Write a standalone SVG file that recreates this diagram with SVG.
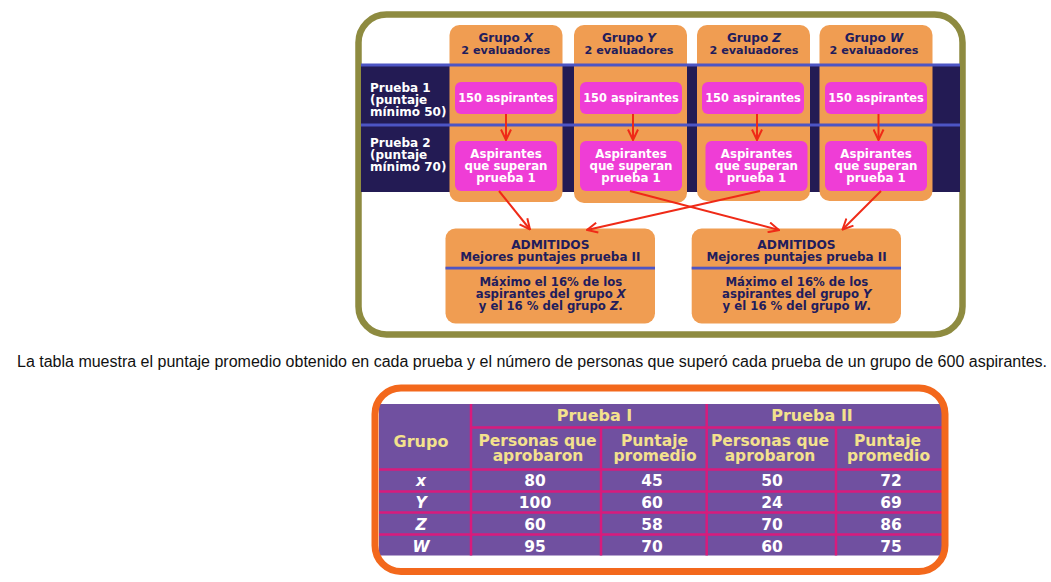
<svg xmlns="http://www.w3.org/2000/svg" width="1051" height="582" viewBox="0 0 1051 582">
<defs>
<style>
.b{font-family:"DejaVu Sans",sans-serif;font-weight:bold}
.nv{fill:#221c5c}
.wh{fill:#ffffff}
.ye{fill:#f3e18d}
.col{fill:#f09d52}
.pk{fill:#ef3dd6}
.it{font-style:italic}
.arr{stroke:#ef2a17;stroke-width:2;fill:none;marker-end:url(#ah)}
.grid{stroke:#d81b7c;stroke-width:2.5}
</style>
<marker id="ah" viewBox="0 0 12 12" refX="11" refY="6" markerWidth="12" markerHeight="12" markerUnits="userSpaceOnUse" orient="auto">
<path d="M0.5,1 L11,6 L0.5,11" fill="none" stroke="#ef2a17" stroke-width="2"/>
</marker>
</defs>
<rect width="1051" height="582" fill="#ffffff"/>

<g id="frame-top">
<rect x="358.5" y="14.5" width="604" height="320" rx="28" fill="#ffffff" stroke="#8e8b40" stroke-width="6.5"/>
</g>

<g id="band">
<rect x="361" y="65" width="599" height="127" fill="#231b54"/>
</g>

<g id="group-x">
<rect class="col" x="449.5" y="25" width="113" height="177" rx="10"/>
<text class="b nv" x="505.8" y="41.7" font-size="12" text-anchor="middle">Grupo <tspan class="it">X</tspan></text>
<text class="b nv" x="505.8" y="54" font-size="11.2" text-anchor="middle">2 evaluadores</text>
</g>
<g id="group-y">
<rect class="col" x="574" y="25" width="113" height="178" rx="10"/>
<text class="b nv" x="629" y="41.7" font-size="12" text-anchor="middle">Grupo <tspan class="it">Y</tspan></text>
<text class="b nv" x="629" y="54" font-size="11.2" text-anchor="middle">2 evaluadores</text>
</g>
<g id="group-z">
<rect class="col" x="697" y="25" width="113" height="176" rx="10"/>
<text class="b nv" x="754" y="41.7" font-size="12" text-anchor="middle">Grupo <tspan class="it">Z</tspan></text>
<text class="b nv" x="754" y="54" font-size="11.2" text-anchor="middle">2 evaluadores</text>
</g>
<g id="group-w">
<rect class="col" x="819.5" y="25" width="113" height="176" rx="10"/>
<text class="b nv" x="874" y="41.7" font-size="12" text-anchor="middle">Grupo <tspan class="it">W</tspan></text>
<text class="b nv" x="874" y="54" font-size="11.2" text-anchor="middle">2 evaluadores</text>
</g>

<g id="band-lines">
<rect x="361" y="63.5" width="599" height="3" fill="#4d55c4"/>
<rect x="361" y="123.5" width="599" height="3" fill="#4d55c4"/>
</g>

<g id="label-prueba1">
<text class="b wh" x="370" y="91.5" font-size="12">Prueba 1</text>
<text class="b wh" x="370" y="104" font-size="12">(puntaje</text>
<text class="b wh" x="370" y="116" font-size="12">mínimo 50)</text>
</g>
<g id="label-prueba2">
<text class="b wh" x="370" y="146.5" font-size="12">Prueba 2</text>
<text class="b wh" x="370" y="158.5" font-size="12">(puntaje</text>
<text class="b wh" x="370" y="170.5" font-size="12">mínimo 70)</text>
</g>

<g id="p1-x"><rect class="pk" x="455" y="82" width="102" height="32" rx="6"/><text class="b wh" x="506" y="101.7" font-size="11.4" text-anchor="middle">150 aspirantes</text></g>
<g id="p1-y"><rect class="pk" x="580" y="82" width="102" height="32" rx="6"/><text class="b wh" x="631" y="101.7" font-size="11.4" text-anchor="middle">150 aspirantes</text></g>
<g id="p1-z"><rect class="pk" x="702" y="82" width="102" height="32" rx="6"/><text class="b wh" x="753" y="101.7" font-size="11.4" text-anchor="middle">150 aspirantes</text></g>
<g id="p1-w"><rect class="pk" x="825" y="82" width="102" height="32" rx="6"/><text class="b wh" x="876" y="101.7" font-size="11.4" text-anchor="middle">150 aspirantes</text></g>

<g id="p2-x"><rect class="pk" x="455" y="141" width="102" height="50" rx="6"/>
<text class="b wh" x="506" y="158.3" font-size="11.8" text-anchor="middle">Aspirantes</text>
<text class="b wh" x="506" y="170" font-size="11.8" text-anchor="middle">que superan</text>
<text class="b wh" x="506" y="181.8" font-size="11.8" text-anchor="middle">prueba 1</text></g>
<g id="p2-y"><rect class="pk" x="580" y="141" width="102" height="50" rx="6"/>
<text class="b wh" x="631" y="158.3" font-size="11.8" text-anchor="middle">Aspirantes</text>
<text class="b wh" x="631" y="170" font-size="11.8" text-anchor="middle">que superan</text>
<text class="b wh" x="631" y="181.8" font-size="11.8" text-anchor="middle">prueba 1</text></g>
<g id="p2-z"><rect class="pk" x="705.5" y="141" width="102" height="50" rx="6"/>
<text class="b wh" x="756.5" y="158.3" font-size="11.8" text-anchor="middle">Aspirantes</text>
<text class="b wh" x="756.5" y="170" font-size="11.8" text-anchor="middle">que superan</text>
<text class="b wh" x="756.5" y="181.8" font-size="11.8" text-anchor="middle">prueba 1</text></g>
<g id="p2-w"><rect class="pk" x="825" y="141" width="102" height="50" rx="6"/>
<text class="b wh" x="876" y="158.3" font-size="11.8" text-anchor="middle">Aspirantes</text>
<text class="b wh" x="876" y="170" font-size="11.8" text-anchor="middle">que superan</text>
<text class="b wh" x="876" y="181.8" font-size="11.8" text-anchor="middle">prueba 1</text></g>

<g id="admit-left">
<rect class="col" x="445.5" y="228.5" width="209.5" height="95" rx="10"/>
<rect x="445.5" y="266.7" width="209.5" height="2.8" fill="#4d55c4"/>
<text class="b nv" x="550.3" y="249.3" font-size="12.2" text-anchor="middle">ADMITIDOS</text>
<text class="b nv" x="550.3" y="261.3" font-size="11.9" text-anchor="middle">Mejores puntajes prueba II</text>
<text class="b nv" x="550.8" y="286" font-size="11.7" text-anchor="middle">Máximo el 16% de los</text>
<text class="b nv" x="550.8" y="297.8" font-size="11.7" text-anchor="middle">aspirantes del grupo <tspan class="it">X</tspan></text>
<text class="b nv" x="550.8" y="309.5" font-size="11.7" text-anchor="middle">y el 16 % del grupo <tspan class="it">Z</tspan>.</text>
</g>
<g id="admit-right">
<rect class="col" x="691.7" y="228.5" width="209.3" height="95" rx="10"/>
<rect x="691.7" y="266.7" width="209.3" height="2.8" fill="#4d55c4"/>
<text class="b nv" x="796.5" y="249.3" font-size="12.2" text-anchor="middle">ADMITIDOS</text>
<text class="b nv" x="796.5" y="261.3" font-size="11.9" text-anchor="middle">Mejores puntajes prueba II</text>
<text class="b nv" x="796.8" y="286" font-size="11.7" text-anchor="middle">Máximo el 16% de los</text>
<text class="b nv" x="796.8" y="297.8" font-size="11.7" text-anchor="middle">aspirantes del grupo <tspan class="it">Y</tspan></text>
<text class="b nv" x="796.8" y="309.5" font-size="11.7" text-anchor="middle">y el 16 % del grupo <tspan class="it">W</tspan>.</text>
</g>

<g id="connectors">
<line class="arr" x1="506" y1="114" x2="506" y2="140"/>
<line class="arr" x1="633" y1="114" x2="633" y2="140"/>
<line class="arr" x1="757" y1="114" x2="757" y2="140"/>
<line class="arr" x1="878.5" y1="114" x2="878.5" y2="140"/>
<line class="arr" x1="499" y1="191" x2="530" y2="229.5"/>
<line class="arr" x1="630" y1="191" x2="779" y2="230"/>
<line class="arr" x1="760" y1="191" x2="587" y2="230"/>
<line class="arr" x1="881" y1="191" x2="842.5" y2="229.5"/>
</g>

<g id="caption">
<text x="17" y="367" font-family="'Liberation Sans',Arial,sans-serif" font-size="16" fill="#111111" textLength="1030" lengthAdjust="spacingAndGlyphs">La tabla muestra el puntaje promedio obtenido en cada prueba y el número de personas que superó cada prueba de un grupo de 600 aspirantes.</text>
</g>

<g id="table">
<rect x="375" y="388" width="570" height="183.5" rx="26" fill="#ffffff"/>
<rect x="379" y="404" width="563" height="151.5" fill="#7050a0"/>
<line class="grid" x1="471" y1="404" x2="471" y2="555.5"/>
<line class="grid" x1="706.7" y1="404" x2="706.7" y2="555.5"/>
<line class="grid" x1="601" y1="427.5" x2="601" y2="555.5"/>
<line class="grid" x1="836" y1="427.5" x2="836" y2="555.5"/>
<line class="grid" x1="471" y1="427.6" x2="942" y2="427.6"/>
<line class="grid" x1="379" y1="469.5" x2="942" y2="469.5"/>
<line class="grid" x1="379" y1="491.6" x2="942" y2="491.6"/>
<line class="grid" x1="379" y1="512.6" x2="942" y2="512.6"/>
<line class="grid" x1="379" y1="534.4" x2="942" y2="534.4"/>
<g class="b ye" font-size="15.5" text-anchor="middle">
<text x="594.5" y="420.7" font-size="16">Prueba I</text>
<text x="812" y="420.7" font-size="16">Prueba II</text>
<text x="421" y="446.5" font-size="16">Grupo</text>
<text x="537.5" y="445.7">Personas que</text>
<text x="538" y="461">aprobaron</text>
<text x="654.5" y="445.7">Puntaje</text>
<text x="655" y="461">promedio</text>
<text x="770" y="445.7">Personas que</text>
<text x="770" y="461">aprobaron</text>
<text x="887.5" y="445.7">Puntaje</text>
<text x="888.5" y="461">promedio</text>
</g>
<g class="b wh" font-size="15.5" text-anchor="middle">
<text class="it" x="421" y="486">x</text>
<text x="535" y="486">80</text><text x="652" y="486">45</text><text x="772" y="486">50</text><text x="891" y="486">72</text>
<text class="it" x="421" y="508">Y</text>
<text x="535" y="508">100</text><text x="652" y="508">60</text><text x="772" y="508">24</text><text x="891" y="508">69</text>
<text class="it" x="421" y="530">Z</text>
<text x="535" y="530">60</text><text x="652" y="530">58</text><text x="772" y="530">70</text><text x="891" y="530">86</text>
<text class="it" x="421" y="552">W</text>
<text x="535" y="552">95</text><text x="652" y="552">70</text><text x="772" y="552">60</text><text x="891" y="552">75</text>
</g>
<rect x="375" y="388" width="570" height="183.5" rx="26" fill="none" stroke="#f3681c" stroke-width="7"/>
</g>
</svg>
